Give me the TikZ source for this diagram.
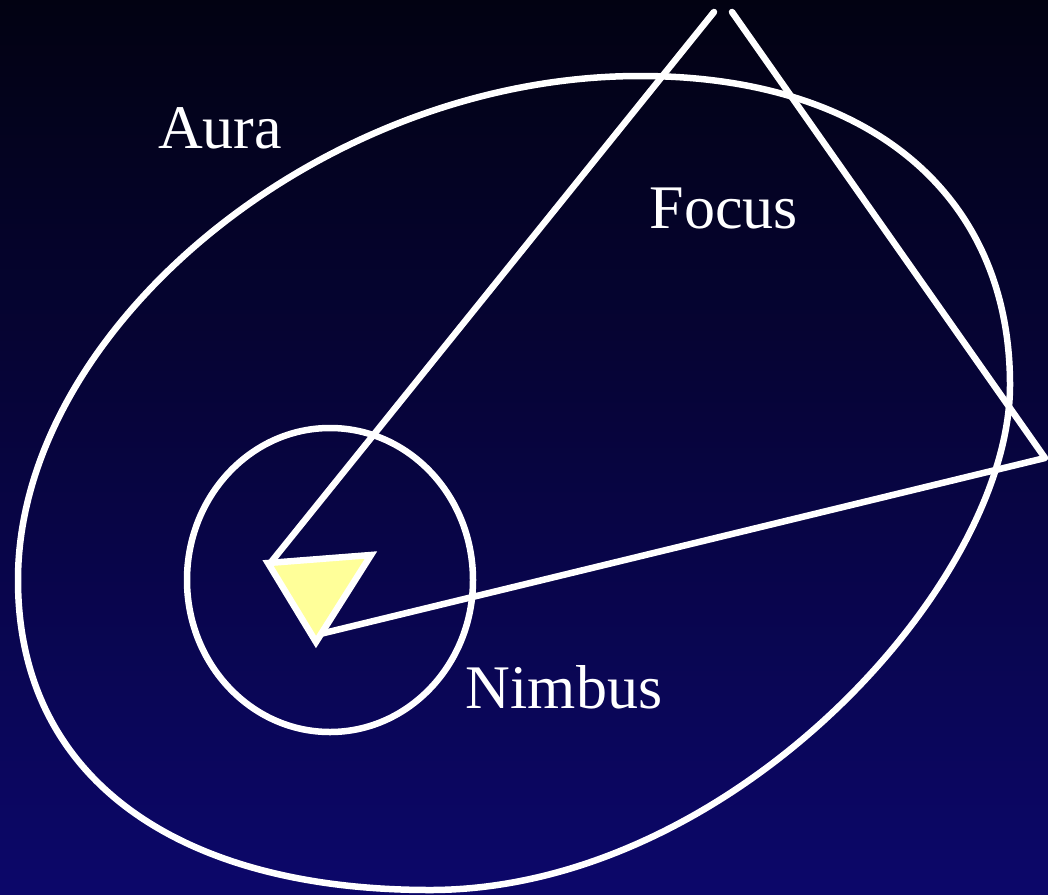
\documentclass[tikz,border=0pt]{standalone}
\usepackage{fontspec}
\setmainfont{Liberation Serif}
\definecolor{skytop}{RGB}{2,2,18}
\definecolor{skybottom}{RGB}{12,7,106}
\definecolor{bodyyellow}{RGB}{255,255,153}
\begin{document}
\begin{tikzpicture}[x=1pt, y=-1pt, line cap=round, line join=round, line width=6.5pt, white]
			\tikzset{label style/.style={font=\fontsize{62}{62}\selectfont, text=white, inner sep=0pt, anchor=base}}
			\useasboundingbox (0,0) rectangle (1048,894);
			\shade[top color=skytop, bottom color=skybottom] (0,0) rectangle (1048,894);
			\clip (0,0) rectangle (1048,894);
			% aura
			\draw (640,76) .. controls (870,76) and (1010,195) .. (1010,385)
				.. controls (1010,585) and (730,890) .. (430,890)
				.. controls (180,890) and (18,780) .. (18,580)
				.. controls (18,330) and (320,76) .. cycle;
			% nimbus
			\draw (330,580) ellipse [x radius=143, y radius=152];
			% focus
			\coordinate (apex) at (272,561);
			\coordinate (tip) at (320,634);
			\coordinate (leftend) at (714,12);
			\coordinate (rightend) at (732,12);
			\coordinate (corner) at (1045,458);
			\draw (apex)--(leftend);
			\draw (rightend)--(corner)--(tip);
			\filldraw[fill=bodyyellow, draw=white, line cap=butt, line join=miter] (268,563)--(371,555)--(316,642)--cycle;
			\node[label style] (aura) at (220,148) {Aura};
			\node[label style] (focus) at (724,228) {Focus};
			\node[label style] (nimbus) at (564,708) {Nimbus};
		\end{tikzpicture}
\end{document}
